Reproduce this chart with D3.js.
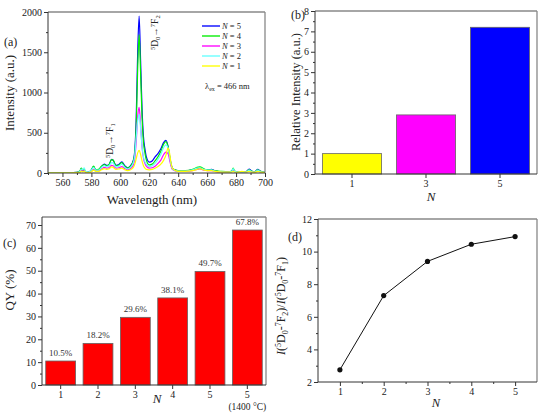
<!DOCTYPE html>
<html><head><meta charset="utf-8">
<script src="https://cdn.jsdelivr.net/npm/d3@7"></script>
<style>
body{margin:0;background:#fff;}
svg, svg text{font-family:"Liberation Serif","Times New Roman",serif;}
</style></head>
<body><svg id="c" width="554" height="415"></svg>
<script>
// ---------- Data ----------
const wavelengths = [550,555,560,565,570,572,573,574,575,576,578,580,581.5,583,585,587,589,590.5,592,594,595,597,599,601,603,605,607,609,610,611,612,613,614,615,616,617,618,620,622,624,626,628,630,631.5,633,634,635,636,638,640,645,650,653,655,658,660,663,665,670,675,677,678,679,681,684,687,689,691,693,695,697,700];
const specN5 = [5,5,5,5,8,20,55,30,40,15,10,40,80,40,40,80,110,95,100,170,160,95,105,140,90,65,90,160,280,700,1500,1950,1400,800,450,300,200,135,150,200,240,300,380,405,330,220,120,60,35,30,25,40,55,60,45,35,45,30,15,15,20,45,20,10,12,15,50,20,15,45,20,10];
const specN4 = [5,5,5,5,8,25,60,35,45,15,10,40,85,40,45,85,105,90,100,165,160,90,100,130,85,60,85,150,250,600,1300,1720,1250,700,380,250,160,100,110,150,200,270,360,390,320,210,110,55,35,30,30,45,70,75,50,40,40,30,20,15,25,60,25,10,15,15,40,20,15,40,20,10];
const specN3 = [3,3,3,3,5,10,35,20,30,10,8,20,45,25,25,50,70,60,65,95,90,60,65,80,55,40,55,100,180,400,700,815,600,330,180,120,85,60,65,85,120,160,230,260,240,170,90,45,25,20,20,30,45,50,35,30,30,20,12,10,15,30,15,8,10,10,25,12,10,25,12,8];
const specN2 = [4,4,4,4,6,20,50,40,65,20,10,35,70,35,35,70,90,80,85,130,125,75,85,110,70,50,70,130,220,450,650,730,560,330,200,140,110,80,90,120,170,230,320,350,310,210,110,55,30,25,25,40,60,65,45,35,40,25,15,12,20,55,20,10,12,12,35,15,12,35,15,10];
const specN1 = [3,3,3,3,4,8,25,15,25,8,6,15,35,20,20,40,55,45,50,75,70,45,50,60,40,30,40,70,110,180,250,280,230,150,90,60,45,40,45,60,80,110,160,220,310,250,130,60,30,20,20,30,45,55,35,30,30,20,12,10,12,20,12,8,20,10,20,10,8,20,12,8];
const seriesNames = ["N = 5","N = 4","N = 3","N = 2","N = 1"];
const seriesColors = ["#0000ff","#00ee00","#ff00ff","#66ffff","#ffff00"];
const spectra = [specN5, specN4, specN3, specN2, specN1];

const relCats = ["1","3","5"];
const relVals = [1.0, 2.9, 7.2];
const relColors = ["#ffff00","#ff00ff","#0000ff"];

const qyCats = ["1","2","3","4","5","5*"];
const qyTickLabels = ["1","2","3","4","5","5"];
const qyVals = [10.5, 18.2, 29.6, 38.1, 49.7, 67.8];
const qyLabels = ["10.5%","18.2%","29.6%","38.1%","49.7%","67.8%"];

const ratioN = [1,2,3,4,5];
const ratioVals = [2.75, 7.3, 9.4, 10.45, 10.92];

// ---------- Helpers ----------
const FONT = "Liberation Serif, Times New Roman, serif";
const svg = d3.select("#c").attr("font-family",FONT);
const TICK_FS = 10;

function frame(x0,x1,y0,y1){
  svg.append("line").attr("x1",x0).attr("x2",x1).attr("y1",y0).attr("y2",y0).attr("stroke","#888").attr("stroke-width",1.3);
  svg.append("line").attr("x1",x1).attr("x2",x1).attr("y1",y0).attr("y2",y1).attr("stroke","#888").attr("stroke-width",1.3);
  svg.append("line").attr("x1",x0).attr("x2",x0).attr("y1",y0).attr("y2",y1).attr("stroke","#333").attr("stroke-width",1);
  svg.append("line").attr("x1",x0).attr("x2",x1).attr("y1",y1).attr("y2",y1).attr("stroke","#333").attr("stroke-width",1);
}
function styleAxis(g){
  g.attr("font-family",FONT).attr("font-size",TICK_FS);
  g.select(".domain").remove();
  g.selectAll("line").attr("stroke","#333");
  g.selectAll("text").attr("fill","#222");
}
function yAxis(scale, x, ticks, minor){
  const g = svg.append("g").attr("transform",`translate(${x},0)`)
    .call(d3.axisLeft(scale).tickValues(ticks).tickSize(4).tickPadding(2).tickFormat(d3.format("d")));
  styleAxis(g);
  if(minor){
    const m = svg.append("g").attr("transform",`translate(${x},0)`)
      .call(d3.axisLeft(scale).tickValues(minor).tickSize(2).tickFormat(""));
    styleAxis(m);
  }
}
function xAxis(scale, y, ticks, minor, fmt){
  const ax = d3.axisBottom(scale).tickSize(4).tickPadding(2);
  if(ticks) ax.tickValues(ticks);
  ax.tickFormat(fmt || (scale.bandwidth ? (d=>d) : d3.format("d")));
  const g = svg.append("g").attr("transform",`translate(0,${y})`).call(ax);
  styleAxis(g);
  if(minor){
    const m = svg.append("g").attr("transform",`translate(0,${y})`)
      .call(d3.axisBottom(scale).tickValues(minor).tickSize(2).tickFormat(""));
    styleAxis(m);
  }
  return g;
}
function label(x,y,txt,fs,rot,italic){
  const t = svg.append("text").attr("x",x).attr("y",y).attr("font-size",fs)
    .attr("text-anchor","middle").attr("fill","#222").text(txt);
  if(italic) t.attr("font-style","italic");
  if(rot) t.attr("transform",`rotate(${rot},${x},${y})`);
  return t;
}

// ---------- Panel (a) ----------
{
  const L=48,R=265,T=12,B=173;
  const x = d3.scaleLinear().domain([550,700]).range([L,R]);
  const y = d3.scaleLinear().domain([0,2000]).range([B,T]);
  svg.append("clipPath").attr("id","clipa").append("rect").attr("x",L).attr("y",T).attr("width",R-L).attr("height",B-T);
  const line = d3.line().x((d,i)=>x(wavelengths[i])).y(d=>y(d)).curve(d3.curveMonotoneX);
  spectra.forEach((s,k)=>{
    svg.append("path").attr("d",line(s)).attr("fill","none").attr("stroke",seriesColors[k])
      .attr("stroke-width",1.2).attr("clip-path","url(#clipa)");
  });
  frame(L,R,T,B);
  yAxis(y,L,[0,500,1000,1500,2000],d3.range(250,2000,500));
  xAxis(x,B,d3.range(560,701,20),d3.range(550,701,10).filter(v=>v%20!==0));
  label(152,204,"Wavelength (nm)",13);
  label(14,93,"Intensity (a.u.)",13,-90);
  svg.append("text").attr("x",4).attr("y",46).attr("font-size",12).attr("fill","#222").text("(a)");
  // legend
  seriesNames.forEach((n,k)=>{
    const yy = 26 + k*10;
    svg.append("line").attr("x1",202).attr("x2",220).attr("y1",yy).attr("y2",yy)
      .attr("stroke",seriesColors[k]).attr("stroke-width",1.8).attr("opacity",0.75);
    const t = svg.append("text").attr("x",222).attr("y",yy+3).attr("font-size",8.5).attr("fill","#222");
    t.append("tspan").attr("font-style","italic").text("N");
    t.append("tspan").text(n.slice(1));
  });
  const le = svg.append("text").attr("x",205).attr("y",89).attr("font-size",8.5).attr("fill","#222");
  le.append("tspan").text("λ");
  le.append("tspan").attr("font-size",6).attr("dy",2).text("ex");
  le.append("tspan").attr("dy",-2).text(" = 466 nm");
  // transition annotations
  function trans(xx,yy,sub){
    const t = svg.append("text").attr("x",xx).attr("y",yy).attr("font-size",9.5).attr("fill","#222")
      .attr("transform",`rotate(-90,${xx},${yy})`);
    t.append("tspan").attr("font-size",6.5).attr("dy",-3.5).text("5");
    t.append("tspan").attr("dy",3.5).text("D");
    t.append("tspan").attr("font-size",6.5).attr("dy",2).text("0");
    t.append("tspan").attr("dy",-2).text("→");
    t.append("tspan").attr("font-size",6.5).attr("dy",-3.5).text("7");
    t.append("tspan").attr("dy",3.5).text("F");
    t.append("tspan").attr("font-size",6.5).attr("dy",2).text(sub);
  }
  trans(158,50,"2");
  trans(113,158,"1");
}

// ---------- Panel (b) ----------
{
  const L=315,R=537,T=11,B=174;
  const x = d3.scaleBand().domain(relCats).range([L,R]).paddingInner(0.2).paddingOuter(0.1);
  const y = d3.scaleLinear().domain([0,8]).range([B,T]);
  svg.selectAll(".barb").data(relVals).enter().append("rect")
    .attr("x",(d,i)=>x(relCats[i])).attr("width",x.bandwidth())
    .attr("y",d=>y(d)).attr("height",d=>B-y(d))
    .attr("fill",(d,i)=>relColors[i]).attr("stroke","#666").attr("stroke-width",0.8);
  frame(L,R,T,B);
  yAxis(y,L,d3.range(0,9,1),d3.range(0.5,8,1));
  xAxis(x,B);
  label(431,201,"N",13,0,true);
  label(300,92,"Relative Intensity (a.u.)",12.5,-90);
  svg.append("text").attr("x",291).attr("y",19).attr("font-size",12).attr("fill","#222").text("(b)");
}

// ---------- Panel (c) ----------
{
  const L=42,R=266,T=217,B=385;
  const x = d3.scaleBand().domain(qyCats).range([L,R]).paddingInner(0.2).paddingOuter(0.1);
  const y = d3.scaleLinear().domain([0,73.5]).range([B,T]);
  svg.selectAll(".barc").data(qyVals).enter().append("rect")
    .attr("x",(d,i)=>x(qyCats[i])).attr("width",x.bandwidth())
    .attr("y",d=>y(d)).attr("height",d=>B-y(d))
    .attr("fill","#ff0000").attr("stroke","#666").attr("stroke-width",0.8);
  svg.selectAll(".lblc").data(qyVals).enter().append("text")
    .attr("x",(d,i)=>x(qyCats[i])+x.bandwidth()/2).attr("y",d=>y(d)-5)
    .attr("text-anchor","middle").attr("font-size",9).attr("fill","#333")
    .text((d,i)=>qyLabels[i]);
  frame(L,R,T,B);
  yAxis(y,L,d3.range(0,71,10),d3.range(5,71,10));
  xAxis(x,B,null,null,(d,i)=>qyTickLabels[i]);
  label(x("5*")+x.bandwidth()/2,410,"(1400 °C)",9.5);
  label(157,403,"N",13,0,true);
  label(14,290,"QY (%)",13,-90);
  svg.append("text").attr("x",3).attr("y",247).attr("font-size",12).attr("fill","#222").text("(c)");
}

// ---------- Panel (d) ----------
{
  const L=318,R=537,T=219,B=382;
  const x = d3.scaleLinear().domain([0.5,5.5]).range([L,R]);
  const y = d3.scaleLinear().domain([2,12]).range([B,T]);
  const line = d3.line().x((d,i)=>x(ratioN[i])).y(d=>y(d));
  svg.append("path").attr("d",line(ratioVals)).attr("fill","none").attr("stroke","#111").attr("stroke-width",1);
  svg.selectAll(".ptd").data(ratioVals).enter().append("circle")
    .attr("cx",(d,i)=>x(ratioN[i])).attr("cy",d=>y(d)).attr("r",2.6).attr("fill","#111");
  frame(L,R,T,B);
  yAxis(y,L,d3.range(2,13,2),d3.range(3,12,2));
  xAxis(x,B,[1,2,3,4,5],[1.5,2.5,3.5,4.5]);
  label(436,407,"N",12.5,0,true);
  const yl = svg.append("text").attr("x",285).attr("y",306).attr("font-size",12).attr("fill","#222")
    .attr("text-anchor","middle").attr("transform","rotate(-90,285,306)");
  const parts = [["I","i"],["(",null],["5","s"],["D",null],["0","b"],["-",null],["7","s"],["F",null],["2","b"],[")/",null],
    ["I","i"],["(",null],["5","s"],["D",null],["0","b"],["-",null],["7","s"],["F",null],["1","b"],[")",null]];
  let cur = 0;
  parts.forEach(p=>{
    const t = yl.append("tspan").text(p[0]);
    let target = 0;
    if(p[1]==="s"){ t.attr("font-size",8); target=-4; }
    else if(p[1]==="b"){ t.attr("font-size",8); target=3; }
    else if(p[1]==="i"){ t.attr("font-style","italic"); }
    t.attr("dy",target-cur); cur=target;
  });
  svg.append("text").attr("x",288).attr("y",241).attr("font-size",12).attr("fill","#222").text("(d)");
}
</script></body></html>
